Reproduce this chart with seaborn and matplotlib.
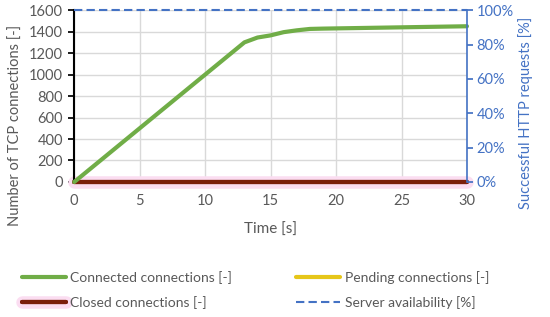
import numpy as np
import pandas as pd
import seaborn as sns
import matplotlib.pyplot as plt
import matplotlib.patheffects as pe
from matplotlib.ticker import PercentFormatter

# values (one sample per second)
time_s = list(range(0, 31))
connected = [0, 100, 200, 300, 400, 500, 600, 700, 800, 900, 1000, 1100, 1200, 1300,
             1345, 1365, 1395, 1412, 1425, 1428, 1430, 1432, 1434, 1436, 1438, 1440,
             1442, 1444, 1446, 1448, 1450]
pending = [0] * 31
closed = [0] * 31
availability = [100] * 31

sns.set_theme(style="whitegrid")
plt.rcParams['font.family'] = ['Lato', 'DejaVu Sans']

df = pd.DataFrame({"t": time_s, "connected": connected, "pending": pending,
                   "closed": closed, "avail": availability})

fig, ax = plt.subplots(figsize=(5.5, 3.17), dpi=100)
ax2 = ax.twinx()

green = "#70AD47"
yellow = "#E6C619"
brown = "#7B1F0A"
blue = "#4472C4"
grey = "#595959"

sns.lineplot(data=df, x="t", y="pending", ax=ax, color=yellow, linewidth=3,
             label="Pending connections [-]", legend=False, clip_on=False)
sns.lineplot(data=df, x="t", y="closed", ax=ax, color=brown, linewidth=3,
             label="Closed connections [-]", legend=False, clip_on=False,
             path_effects=[pe.withStroke(linewidth=9, foreground="#FBDDF1"), pe.Normal()])
sns.lineplot(data=df, x="t", y="connected", ax=ax, color=green, linewidth=3,
             label="Connected connections [-]", legend=False, clip_on=False, zorder=5)
sns.lineplot(data=df, x="t", y="avail", ax=ax2, color=blue, linewidth=1.5,
             linestyle=(0, (4, 2)), label="Server availability [%]", legend=False,
             clip_on=False)

ax.set_xlim(0, 30)
ax.set_ylim(0, 1600)
ax.set_xticks(range(0, 31, 5))
ax.set_yticks(range(0, 1601, 200))
ax2.set_ylim(0, 100)
ax2.set_yticks(range(0, 101, 20))
ax2.yaxis.set_major_formatter(PercentFormatter(decimals=0))
ax2.grid(False)

ax.grid(True, color="#D9D9D9", linewidth=1)
for s in ["top", "right"]:
    ax.spines[s].set_visible(False)
ax.spines["bottom"].set_visible(False)
ax.spines["left"].set_color("black")
ax.spines["left"].set_linewidth(1.5)
for s in ["top", "left", "bottom"]:
    ax2.spines[s].set_visible(False)
ax2.spines["right"].set_color(blue)
ax2.spines["right"].set_linewidth(1.2)

ax.tick_params(axis="both", colors=grey, labelsize=10.5, length=0)
ax.tick_params(axis="x", pad=9)
ax.tick_params(axis="y", length=4, color="black", direction="out", left=True, pad=4)
ax2.tick_params(axis="y", colors=blue, labelsize=10.5, length=4, right=True, pad=3)

ax.set_xlabel("Time [s]", color=grey, fontsize=11, labelpad=10)
ax.set_ylabel("Number of TCP connections [-]", color=grey, fontsize=10.5)
ax.yaxis.set_label_coords(-0.132, 0.33)
ax2.set_ylabel("Successful HTTP requests [%]", color=blue, fontsize=10.5)
ax2.yaxis.set_label_coords(1.13, 0.40)

h1, l1 = ax.get_legend_handles_labels()
h2, l2 = ax2.get_legend_handles_labels()
# h1 order: pending, closed, connected
handles = [h1[2], h1[1], h1[0], h2[0]]
labels = [l1[2], l1[1], l1[0], l2[0]]
fig.legend(handles, labels, loc="lower center", ncol=2, frameon=False,
           fontsize=10, labelcolor=grey, handlelength=3.2, handletextpad=0.3,
           columnspacing=4.6, labelspacing=0.9, bbox_to_anchor=(0.464, -0.015))

fig.subplots_adjust(left=0.135, right=0.849, top=0.968, bottom=0.426)
fig.savefig("out.png", dpi=100)
